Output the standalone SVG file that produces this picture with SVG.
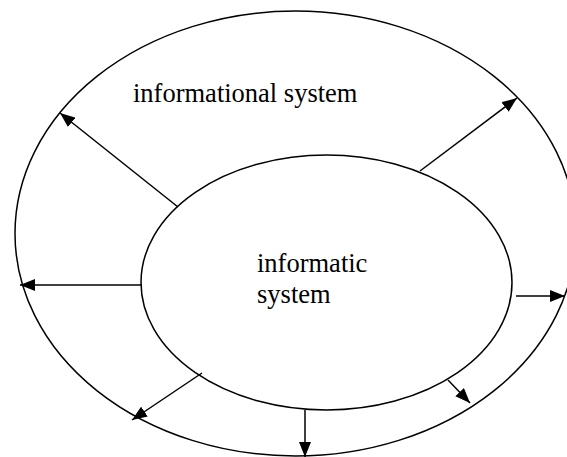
<svg xmlns="http://www.w3.org/2000/svg" width="567" height="457" viewBox="0 0 567 457">
<style>
.e{fill:none;stroke:#000;stroke-width:1.5}
.c line{stroke:#000;stroke-width:1.5;marker-end:url(#ah)}
.t{font-family:'Liberation Serif','Times New Roman','DejaVu Serif',serif;font-size:26.5px;fill:#000}
</style>
<defs>
<marker id="ah" markerWidth="15" markerHeight="12" refX="15" refY="6" orient="auto" markerUnits="userSpaceOnUse">
<path d="M0,0 L15,6 L0,12 Z" fill="#000"/>
</marker>
</defs>
<rect width="567" height="457" fill="#fff"/>
<g id="outer">
<ellipse class="e" cx="295.5" cy="233.5" rx="280.5" ry="222.5"/>
<text class="t" x="133" y="102">informational system</text>
</g>
<g id="inner">
<ellipse class="e" cx="326.5" cy="282.5" rx="185.5" ry="127.5"/>
<text class="t" x="257" y="272">informatic</text>
<text class="t" x="257" y="303">system</text>
</g>
<g class="c" id="connectors">
<line x1="178" y1="207" x2="60" y2="113"/>
<line x1="420" y1="171" x2="517" y2="98"/>
<line x1="142" y1="285" x2="20" y2="285"/>
<line x1="516" y1="296" x2="565" y2="296"/>
<line x1="202" y1="373" x2="132" y2="420"/>
<line x1="448" y1="380" x2="470" y2="403"/>
<line x1="305" y1="410" x2="305" y2="457"/>
</g>
</svg>
